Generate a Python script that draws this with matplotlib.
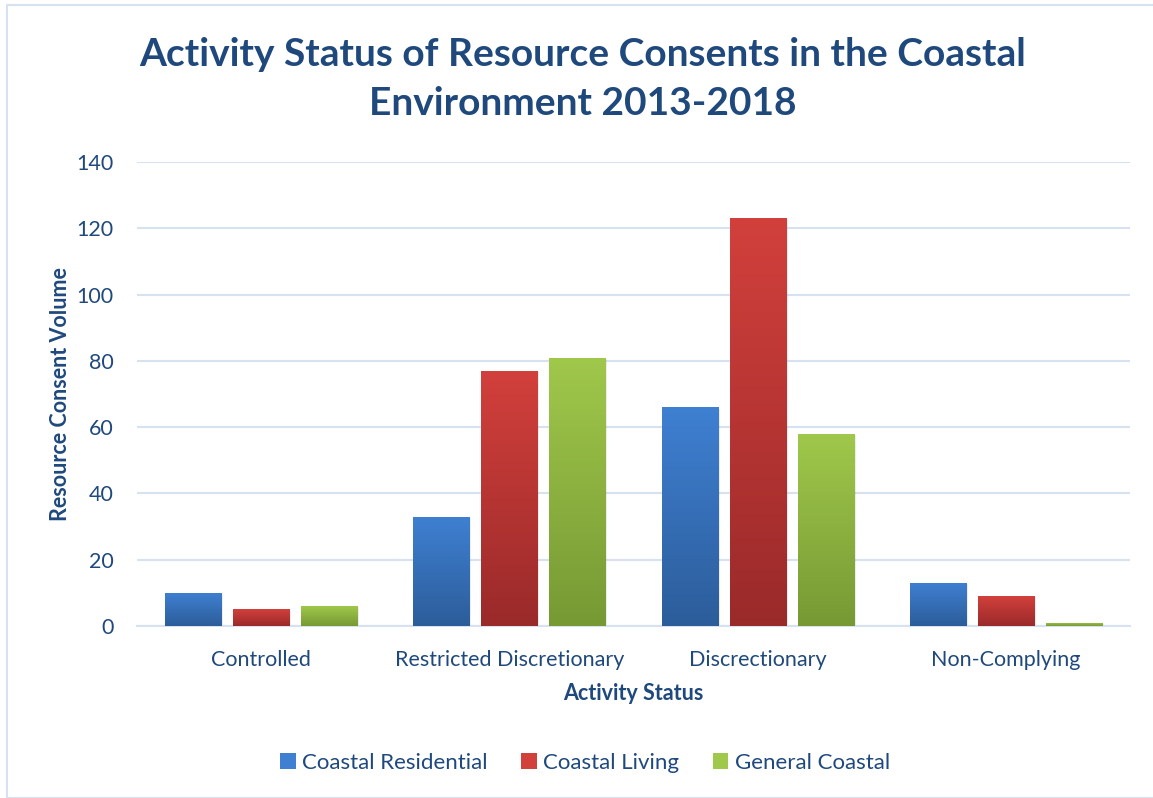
import matplotlib
matplotlib.use("Agg")
import matplotlib.pyplot as plt
import numpy as np
from matplotlib.colors import LinearSegmentedColormap
from matplotlib.patches import Rectangle, Patch

categories = ["Controlled", "Restricted Discretionary", "Discrectionary", "Non-Complying"]
series_names = ["Coastal Residential", "Coastal Living", "General Coastal"]
coastal_residential = [10, 33, 66, 13]
coastal_living = [5, 77, 123, 9]
general_coastal = [6, 81, 58, 1]
yticks = [0, 20, 40, 60, 80, 100, 120, 140]

tops = ["#3F80D2", "#D2403C", "#A0C84B"]
bottoms = ["#2C5D9A", "#9A2A2A", "#779934"]

plt.rcParams['font.family'] = ['Lato', 'DejaVu Sans']
text_color = "#1F497D"

fig = plt.figure(figsize=(11.53, 7.98), dpi=100)
ax = fig.add_axes([137/1153, 1-626/798, (1130-137)/1153, (626-162)/798])

data = [coastal_residential, coastal_living, general_coastal]
x = np.arange(len(categories))
width = 0.226
step = 0.274
grad = np.linspace(0, 1, 256).reshape(-1, 1)
for i, vals in enumerate(data):
    cmap = LinearSegmentedColormap.from_list("g%d" % i, [bottoms[i], tops[i]])
    bars = ax.bar(x + (i - 1) * step, vals, width, color="none", edgecolor="none", zorder=3)
    for b in bars:
        x0, y0 = b.get_x(), b.get_y()
        w, h = b.get_width(), b.get_height()
        sh = Rectangle((x0 + 0.008, y0), w, max(h - 0.4, 0), facecolor="#000000", alpha=0.07,
                       edgecolor="none", zorder=2)
        ax.add_patch(sh)
        im = ax.imshow(grad, extent=[x0, x0 + w, y0, y0 + h], origin="lower", cmap=cmap,
                       aspect="auto", zorder=3)
        im.set_clip_path(b)

ax.set_xlim(-0.5, len(categories) - 0.5)
ax.set_ylim(0, 140)
ax.set_yticks(yticks)
ax.set_xticks(x)
ax.set_xticklabels(categories)
ax.grid(axis="y", color="#D6E2F2", linewidth=1.5, zorder=0)
ax.set_axisbelow(True)
for s in ["top", "right", "left"]:
    ax.spines[s].set_visible(False)
ax.spines["bottom"].set_color("#D6E2F2")
ax.spines["bottom"].set_linewidth(1.5)
ax.tick_params(axis="both", length=0, colors=text_color, labelsize=15.5)
ax.tick_params(axis="y", pad=17)
ax.tick_params(axis="x", pad=17)
ax.set_xlabel("Activity Status", fontsize=15.5, fontweight="bold", color=text_color, labelpad=10)
ax.set_ylabel("Resource Consent Volume", fontsize=15.5, fontweight="bold", color=text_color, labelpad=4)

fig.text(583/1153, 1-79/798, "Activity Status of Resource Consents in the Coastal\nEnvironment 2013-2018",
         ha="center", va="center", fontsize=28, fontweight="bold", color=text_color, linespacing=1.5)

handles = [Patch(facecolor=tops[i], edgecolor="none") for i in range(3)]
fig.legend(handles, series_names, loc="center", bbox_to_anchor=(585/1153, 1-763/798), ncol=3,
           frameon=False, fontsize=16, labelcolor=text_color, handlelength=0.7, handleheight=0.7,
           handletextpad=0.3, columnspacing=1.5)

border = Rectangle((7/1153, 0), 1.2, 1 - 5/798, transform=fig.transFigure, fill=False,
                   edgecolor="#D6E2F2", linewidth=1.5)
fig.patches.append(border)

fig.savefig("out.png", dpi=100)
